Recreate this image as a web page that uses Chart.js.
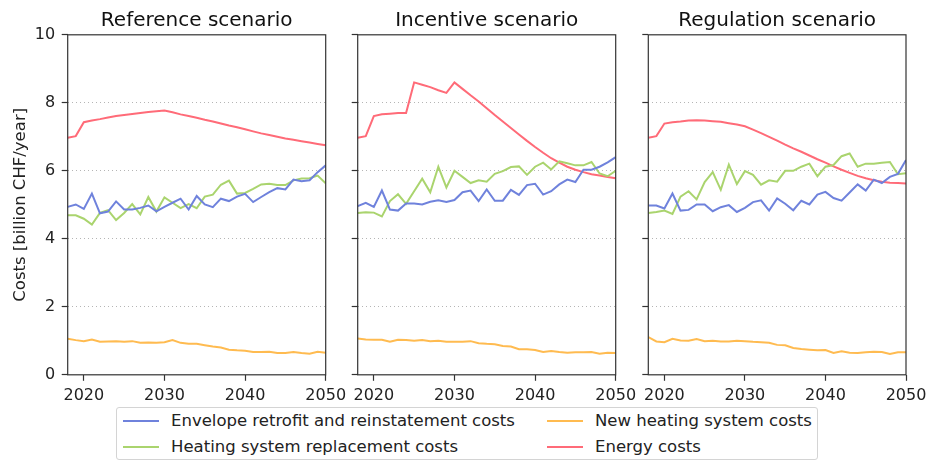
<!DOCTYPE html>
<html>
<head>
<meta charset="utf-8">
<script src="https://cdn.jsdelivr.net/npm/chart.js@4"></script>
<style>
  body { margin: 0; background: #fff; font-family: "DejaVu Sans", sans-serif; }
  #wrap { position: relative; width: 930px; height: 461px; overflow: hidden; }
  canvas { position: absolute; top: 0; }
  #legend { position: absolute; left: 116px; top: 407px; width: 702px; height: 53px;
            border: 1px solid #d4d4d4; border-radius: 3px; box-sizing: border-box; }
  .item { position: absolute; font-size: 16.5px; color: #222; white-space: nowrap; line-height: 20px; }
  .item i { position: absolute; top: 9px; width: 36px; height: 2px; }
  .item span { position: absolute; left: 48px; }
</style>
</head>
<body>
<div id="wrap">
  <canvas id="c1" width="360" height="400" style="left:0px"></canvas>
  <canvas id="c2" width="320" height="400" style="left:330px"></canvas>
  <canvas id="c3" width="310" height="400" style="left:620px"></canvas>
  <div id="legend"></div>
</div>
<script>
// Data
const years = [2018, 2019, 2020, 2021, 2022, 2023, 2024, 2025, 2026, 2027, 2028,
  2029, 2030, 2031, 2032, 2033, 2034, 2035, 2036, 2037, 2038, 2039, 2040,
  2041, 2042, 2043, 2044, 2045, 2046, 2047, 2048, 2049, 2050];
const xTicks = [2020, 2030, 2040, 2050];
const yTicks = [0, 2, 4, 6, 8, 10];

const seriesNames = ["Envelope retrofit and reinstatement costs", "Heating system replacement costs",
  "New heating system costs", "Energy costs"];
const seriesColors = ["#6f82dc", "#aad46e", "#ffbb50", "#ff6b78"];
const panelTitles = ["Reference scenario", "Incentive scenario", "Regulation scenario"];

// Reference scenario
const refEnvelope = [4.94, 5.01, 4.88, 5.33, 4.75, 4.80, 5.10, 4.86, 4.86, 4.91, 4.98, 4.81, 4.94,
  5.06, 5.18, 4.86, 5.26, 5.01, 4.93, 5.18, 5.11, 5.24, 5.32, 5.08, 5.23, 5.37, 5.49, 5.45,
  5.74, 5.69, 5.72, 5.96, 6.16];
const refHeating = [4.69, 4.69, 4.59, 4.42, 4.76, 4.84, 4.55, 4.76, 5.02, 4.72, 5.23, 4.80, 5.22,
  5.06, 4.90, 5.02, 4.90, 5.24, 5.30, 5.59, 5.71, 5.33, 5.35, 5.47, 5.60, 5.62, 5.58, 5.58,
  5.72, 5.77, 5.78, 5.86, 5.63];
const refNewHeating = [1.06, 1.02, 0.99, 1.04, 0.97, 0.98, 0.99, 0.97, 0.99, 0.94, 0.95, 0.94, 0.96,
  1.02, 0.94, 0.91, 0.91, 0.87, 0.83, 0.80, 0.74, 0.72, 0.71, 0.67, 0.67, 0.68, 0.64, 0.64,
  0.67, 0.64, 0.62, 0.68, 0.65];
const refEnergy = [6.97, 7.02, 7.43, 7.48, 7.52, 7.57, 7.61, 7.64, 7.67, 7.70, 7.73, 7.75, 7.77,
  7.72, 7.66, 7.61, 7.56, 7.50, 7.45, 7.39, 7.33, 7.28, 7.22, 7.16, 7.10, 7.05, 7.00, 6.95,
  6.91, 6.87, 6.83, 6.79, 6.75];

// Incentive scenario
const incEnvelope = [4.96, 5.06, 4.94, 5.42, 4.86, 4.83, 5.04, 5.04, 5.01, 5.09, 5.13, 5.08, 5.14,
  5.37, 5.42, 5.11, 5.45, 5.12, 5.12, 5.44, 5.29, 5.58, 5.62, 5.30, 5.40, 5.60, 5.74, 5.67,
  6.03, 6.03, 6.12, 6.25, 6.40];
const incHeating = [4.76, 4.78, 4.77, 4.66, 5.11, 5.31, 5.03, 5.40, 5.77, 5.37, 6.12, 5.51, 6.00,
  5.82, 5.64, 5.72, 5.68, 5.91, 5.99, 6.11, 6.13, 5.88, 6.12, 6.24, 6.04, 6.28, 6.22, 6.16,
  6.16, 6.26, 5.92, 5.84, 6.00];
const incNewHeating = [1.07, 1.04, 1.03, 1.03, 0.97, 1.03, 1.02, 1.00, 1.02, 0.99, 1.00, 0.97, 0.97,
  0.97, 0.99, 0.93, 0.91, 0.90, 0.85, 0.83, 0.75, 0.75, 0.73, 0.67, 0.70, 0.67, 0.65, 0.66,
  0.66, 0.67, 0.62, 0.65, 0.64];
const incEnergy = [6.97, 7.02, 7.61, 7.66, 7.68, 7.70, 7.70, 8.60, 8.53, 8.46, 8.37, 8.29, 8.60,
  8.41, 8.22, 8.04, 7.84, 7.64, 7.45, 7.26, 7.07, 6.88, 6.70, 6.53, 6.37, 6.24, 6.12, 6.03,
  5.96, 5.90, 5.86, 5.82, 5.78];

// Regulation scenario
const regEnvelope = [4.98, 4.98, 4.89, 5.33, 4.83, 4.85, 5.01, 5.01, 4.81, 4.93, 4.99, 4.79, 4.91,
  5.08, 5.13, 4.83, 5.19, 5.03, 4.84, 5.12, 5.01, 5.30, 5.38, 5.20, 5.12, 5.36, 5.60, 5.42,
  5.74, 5.64, 5.82, 5.91, 6.32];
const regHeating = [4.76, 4.79, 4.83, 4.73, 5.24, 5.40, 5.16, 5.67, 5.96, 5.44, 6.18, 5.61, 5.99,
  5.88, 5.59, 5.72, 5.68, 6.00, 6.00, 6.12, 6.21, 5.84, 6.12, 6.17, 6.43, 6.51, 6.12, 6.21,
  6.21, 6.24, 6.26, 5.90, 5.93];
const regNewHeating = [1.11, 0.98, 0.96, 1.06, 1.01, 1.00, 1.05, 0.99, 1.00, 0.98, 0.98, 1.00, 0.99,
  0.97, 0.96, 0.94, 0.88, 0.87, 0.79, 0.76, 0.74, 0.72, 0.73, 0.64, 0.69, 0.65, 0.64, 0.66,
  0.68, 0.67, 0.61, 0.66, 0.66];
const regEnergy = [6.97, 7.02, 7.39, 7.43, 7.45, 7.48, 7.49, 7.48, 7.46, 7.44, 7.40, 7.36, 7.31,
  7.21, 7.11, 7.00, 6.89, 6.77, 6.66, 6.56, 6.45, 6.34, 6.24, 6.13, 6.03, 5.94, 5.85, 5.78,
  5.72, 5.68, 5.65, 5.64, 5.63];

const panelSeries = [
  [refEnvelope, refHeating, refNewHeating, refEnergy],
  [incEnvelope, incHeating, incNewHeating, incEnergy],
  [regEnvelope, regHeating, regNewHeating, regEnergy]
];

Chart.defaults.font.family = "'DejaVu Sans', sans-serif";
Chart.defaults.color = "#222";

// full box around the plot area, like matplotlib spines
const framePlugin = {
  id: "frame",
  afterDatasetsDraw(chart) {
    const a = chart.chartArea, ctx = chart.ctx;
    ctx.save();
    ctx.strokeStyle = "#333";
    ctx.lineWidth = 1.2;
    ctx.strokeRect(a.left, a.top, a.right - a.left, a.bottom - a.top);
    ctx.restore();
  }
};

// panel title centred over the plot area (not the whole canvas)
const panelTitlePlugin = {
  id: "panelTitle",
  afterDraw(chart, args, opts) {
    const a = chart.chartArea, ctx = chart.ctx;
    ctx.save();
    ctx.font = "20px 'DejaVu Sans', sans-serif";
    ctx.fillStyle = "#111";
    ctx.textAlign = "center";
    ctx.textBaseline = "alphabetic";
    ctx.fillText(opts.text, (a.left + a.right) / 2, 26);
    ctx.restore();
  }
};

// panel geometry: y-axis box width and right padding per canvas
const yAxisWidth = [67.7, 27.7, 28.3];
const padRight = [34.3, 34.3, 24];

function makeChart(idx) {
  const ctx = document.getElementById("c" + (idx + 1)).getContext("2d");
  const first = idx === 0;
  return new Chart(ctx, {
    type: "line",
    data: {
      datasets: panelSeries[idx].map((vals, i) => ({
        label: seriesNames[i],
        data: years.map((y, j) => ({ x: y, y: vals[j] })),
        borderColor: seriesColors[i],
        borderWidth: 2,
        pointRadius: 0,
        tension: 0
      }))
    },
    options: {
      responsive: false,
      animation: false,
      devicePixelRatio: 1,
      layout: { padding: { left: 0, right: padRight[idx], top: 34.8, bottom: 0 } },
      plugins: {
        legend: { display: false },
        tooltip: { enabled: false },
        title: { display: false },
        panelTitle: { text: panelTitles[idx] }
      },
      scales: {
        x: {
          type: "linear",
          min: 2018, max: 2050,
          afterBuildTicks: s => { s.ticks = xTicks.map(v => ({ value: v })); },
          afterFit: s => { s.height = 25.2; s.paddingLeft = 0; s.paddingRight = 0; },
          ticks: { font: { size: 16 }, padding: 5, maxRotation: 0, callback: v => String(v) },
          grid: { drawOnChartArea: false, drawTicks: true, tickLength: 6, tickColor: "#333", tickWidth: 1.2 },
          border: { display: false }
        },
        y: {
          min: 0, max: 10,
          afterBuildTicks: s => { s.ticks = yTicks.map(v => ({ value: v })); },
          afterFit: s => { s.width = yAxisWidth[idx]; s.paddingTop = 0; s.paddingBottom = 0; },
          ticks: { font: { size: 16 }, padding: 6.5, callback: v => first ? String(v) : "" },
          grid: {
            color: c => (c.tick && (c.tick.value === 0 || c.tick.value === 10)) ? "rgba(0,0,0,0)" : "#b5b5b5",
            lineWidth: 1,
            tickLength: 6,
            tickColor: "#333",
            tickWidth: 1.2,
            tickBorderDash: []
          },
          border: { display: false, dash: [1, 3] },
          title: {
            display: first,
            text: "Costs [billion CHF/year]",
            font: { size: 16.5 },
            color: "#222",
            padding: { top: 10.5, bottom: 0 }
          }
        }
      }
    },
    plugins: [framePlugin, panelTitlePlugin]
  });
}

[0, 1, 2].forEach(makeChart);

// legend (two columns, matplotlib-style box)
const legendPos = [
  { left: 6, top: 3 }, { left: 430, top: 3 },
  { left: 6, top: 29 }, { left: 430, top: 29 }
];
const legendOrder = [0, 2, 1, 3];
const legend = document.getElementById("legend");
legendOrder.forEach((s, k) => {
  const d = document.createElement("div");
  d.className = "item";
  d.style.left = legendPos[k].left + "px";
  d.style.top = legendPos[k].top + "px";
  d.innerHTML = `<i style="background:${seriesColors[s]}"></i><span>${seriesNames[s]}</span>`;
  legend.appendChild(d);
});
</script>
</body>
</html>
